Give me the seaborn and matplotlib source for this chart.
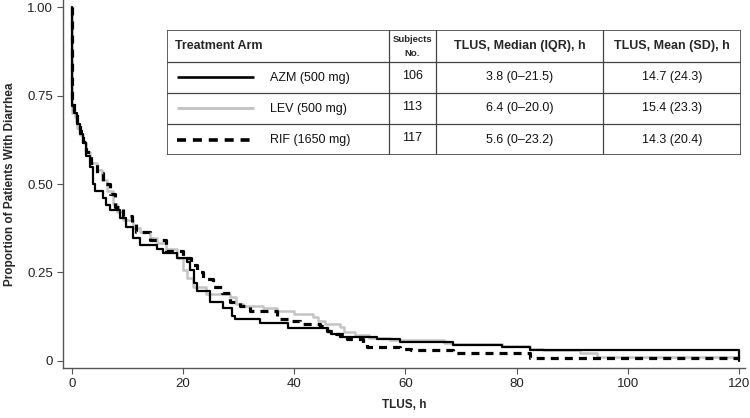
import matplotlib
matplotlib.use("Agg")
import matplotlib.pyplot as plt
import seaborn as sns
import pandas as pd
import numpy as np

# ---------------- data ----------------
azm_t = [0, 0, 0.5, 0.9, 1.5, 2.0, 2.6, 3.2, 3.8, 4.1, 5.6, 6.2, 6.8, 8.6, 9.8, 11.0,
         12.2, 15.3, 16.4, 18.9, 20.7, 21.3, 22.0, 22.5, 24.8, 27.2, 28.8, 29.3, 33.8,
         38.8, 46.1, 46.7, 48.2, 54.8, 59.0, 68.5, 77.3, 82.4, 120]
azm_s = [1.0, 0.72, 0.70, 0.67, 0.643, 0.615, 0.58, 0.547, 0.50, 0.48, 0.46, 0.44, 0.425,
         0.405, 0.377, 0.348, 0.326, 0.316, 0.305, 0.29, 0.28, 0.255, 0.22, 0.198, 0.165,
         0.15, 0.125, 0.118, 0.106, 0.092, 0.082, 0.075, 0.068, 0.060, 0.052, 0.043, 0.038,
         0.029, 0.0]

lev_t = [0, 0, 0.6, 1.0, 1.5, 2.0, 2.6, 3.2, 4.5, 5.5, 6.4, 7.4, 8.2, 9.2, 11.0, 12.2,
         14.0, 15.3, 17.0, 18.9, 20.0, 20.8, 21.8, 24.2, 28.4, 29.5, 30.8, 34.4, 36.9,
         40.0, 43.4, 44.3, 45.5, 48.2, 49.0, 51.0, 53.4, 57.3, 66.9, 68.6, 77.3, 82.4,
         84.8, 91.4, 94.4, 120]
lev_s = [1.0, 0.70, 0.69, 0.66, 0.64, 0.62, 0.59, 0.56, 0.54, 0.51, 0.48, 0.444, 0.42,
         0.397, 0.374, 0.363, 0.348, 0.334, 0.317, 0.29, 0.255, 0.235, 0.207, 0.188, 0.18,
         0.16, 0.155, 0.148, 0.140, 0.132, 0.123, 0.113, 0.104, 0.094, 0.080, 0.071, 0.064,
         0.057, 0.050, 0.046, 0.040, 0.034, 0.030, 0.020, 0.009, 0.009]

rif_t = [0, 0, 0.5, 1.0, 1.5, 2.0, 2.6, 3.5, 4.5, 5.6, 6.8, 7.7, 9.2, 10.8, 11.6, 14.0,
         17.0, 20.0, 21.5, 22.5, 23.6, 25.4, 27.0, 28.4, 30.2, 32.0, 36.9, 39.2, 41.0,
         44.6, 45.9, 47.5, 49.5, 52.3, 53.1, 59.0, 61.0, 68.6, 82.4, 120]
rif_s = [1.0, 0.73, 0.70, 0.67, 0.65, 0.62, 0.59, 0.56, 0.53, 0.50, 0.473, 0.434, 0.41,
         0.39, 0.363, 0.34, 0.31, 0.29, 0.27, 0.25, 0.232, 0.207, 0.19, 0.167, 0.155,
         0.139, 0.119, 0.111, 0.104, 0.099, 0.085, 0.075, 0.062, 0.050, 0.039, 0.034,
         0.030, 0.020, 0.0085, 0.0085]

arm_labels = ["AZM (500 mg)", "LEV (500 mg)", "RIF (1650 mg)"]
subjects = ["106", "113", "117"]
medians = ["3.8 (0\u201321.5)", "6.4 (0\u201320.0)", "5.6 (0\u201323.2)"]
means = ["14.7 (24.3)", "15.4 (23.3)", "14.3 (20.4)"]

x_ticks = [0, 20, 40, 60, 80, 100, 120]
y_ticks = [0, 0.25, 0.50, 0.75, 1.00]
y_tick_labels = ["0", "0.25", "0.50", "0.75", "1.00"]

# ---------------- style ----------------
sns.set_theme(style="ticks")
plt.rcParams["font.family"] = ["Liberation Sans", "DejaVu Sans"]

styles = {
    "AZM (500 mg)": dict(color="black", lw=1.6, ls="-"),
    "LEV (500 mg)": dict(color="#c4c4c4", lw=1.8, ls="-"),
    "RIF (1650 mg)": dict(color="black", lw=2.3, ls=(0, (2.5, 1.9))),
}

fig = plt.figure(figsize=(7.5, 4.18), dpi=100)
ax = fig.add_axes([63 / 750, 1 - 368 / 418, 682 / 750, 368 / 418])

series = [("LEV (500 mg)", lev_t, lev_s), ("AZM (500 mg)", azm_t, azm_s),
          ("RIF (1650 mg)", rif_t, rif_s)]
for name, t, s in series:
    df = pd.DataFrame({"t": t, "s": s})
    st = styles[name]
    sns.lineplot(data=df, x="t", y="s", ax=ax, estimator=None, sort=False,
                 drawstyle="steps-post", color=st["color"], linewidth=st["lw"],
                 linestyle=st["ls"], legend=False)

ax.set_xlim(-1.564, 121.03)
ax.set_ylim(-0.0212, 1.0212)
ax.set_xticks(x_ticks)
ax.set_xticklabels([str(v) for v in x_ticks])
ax.set_yticks(y_ticks)
ax.set_yticklabels(y_tick_labels)
ax.tick_params(axis="both", direction="out", length=4, width=0.8, color="#555555",
               labelsize=9.5, labelcolor="#222222", pad=3)
for side in ["top", "right"]:
    ax.spines[side].set_visible(False)
for side in ["left", "bottom"]:
    ax.spines[side].set_color("#555555")
    ax.spines[side].set_linewidth(1.0)
ax.set_xlabel("TLUS, h", fontsize=8.5, fontweight="bold", labelpad=7)
ax.set_ylabel("Proportion of Patients With Diarrhea", fontsize=8.5, fontweight="bold",
              labelpad=8)

# ---------------- table inset ----------------
L, R, T, B = 167, 741, 30, 155
tab = fig.add_axes([L / 750, 1 - B / 418, (R - L) / 750, (B - T) / 418])
tab.set_xlim(L, R)
tab.set_ylim(B, T)
tab.axis("off")
tab.add_patch(plt.Rectangle((L, T), R - L, B - T, facecolor="white",
                            edgecolor="#444444", lw=1.2, zorder=1))
col_x = [389, 436, 603]
row_y = [61.7, 92.7, 124]
for cx in col_x:
    tab.plot([cx, cx], [T, B], color="#444444", lw=0.9)
for ry in row_y:
    tab.plot([L, R], [ry, ry], color="#444444", lw=0.9)

hdr_y = (T + row_y[0]) / 2
tab.text(175, hdr_y, "Treatment Arm", fontsize=9, fontweight="bold",
         ha="left", va="center")
tab.text(412.5, 39, "Subjects", fontsize=6.8, fontweight="bold", ha="center", va="center")
tab.text(412.5, 53, "No.", fontsize=6.8, fontweight="bold", ha="center", va="center")
tab.text(519.5, hdr_y, "TLUS, Median (IQR), h", fontsize=9, fontweight="bold",
         ha="center", va="center")
tab.text(672, hdr_y, "TLUS, Mean (SD), h", fontsize=9, fontweight="bold",
         ha="center", va="center")

bounds = [row_y[0], row_y[1], row_y[2], B]
for i, name in enumerate(arm_labels):
    cy = (bounds[i] + bounds[i + 1]) / 2
    st = styles[name]
    tab.plot([177, 254], [cy, cy], color=st["color"], lw=st["lw"] + 0.3,
             linestyle=st["ls"], solid_capstyle="butt", dash_capstyle="butt")
    tab.text(270, cy + 0.5, name, fontsize=9, ha="left", va="center", color="#111111")
    tab.text(412.5, cy - 1.5, subjects[i], fontsize=9, ha="center", va="center",
             color="#111111")
    tab.text(519.5, cy, medians[i], fontsize=9, ha="center", va="center", color="#111111")
    tab.text(672, cy, means[i], fontsize=9, ha="center", va="center", color="#111111")

fig.savefig("out.png", dpi=100)
